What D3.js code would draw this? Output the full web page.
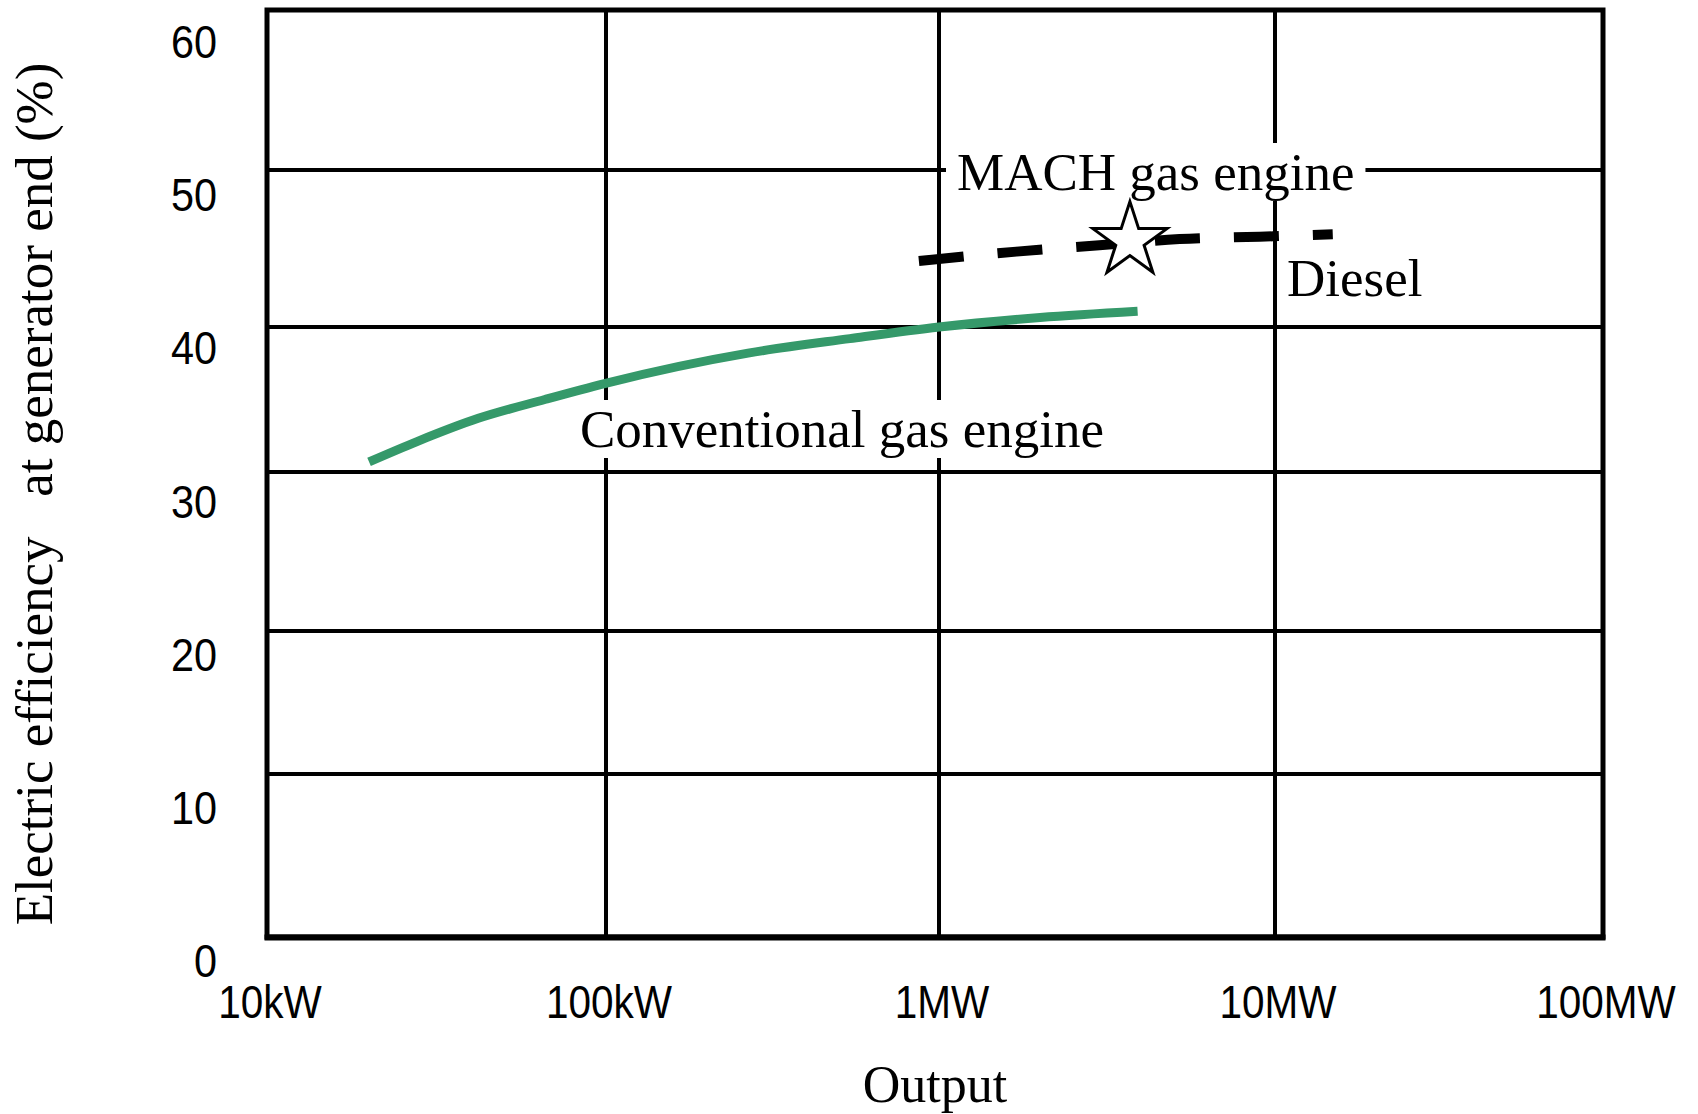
<!DOCTYPE html>
<html>
<head>
<meta charset="utf-8">
<script src="https://cdn.jsdelivr.net/npm/d3@7"></script>
<style>
  html, body { margin: 0; padding: 0; background: #fff; }
  svg { display: block; }
</style>
</head>
<body>
<svg id="chart" width="1698" height="1114"></svg>
<script>
// ---- data ----
const xTickValues = [1e4, 1e5, 1e6, 1e7, 1e8];
const xTickLabels = ["10kW", "100kW", "1MW", "10MW", "100MW"];
const yTickValues = [0, 10, 20, 30, 40, 50, 60];
const yTickLabels = ["0", "10", "20", "30", "40", "50", "60"];

// Conventional gas engine (output in W, efficiency in %)
const conventionalOutput     = [20e3, 27.7e3, 42e3, 66e3, 99e3, 267e3, 540e3, 1e6, 2e6, 3.9e6];
const conventionalEfficiency = [30.7, 32.1,   33.7, 35.0, 36.1, 38.2,  39.2,  40.0, 40.6, 41.0];

// Diesel
const dieselOutput     = [0.87e6, 1.7e6, 3e6,  5.2e6, 9e6,   15e6];
const dieselEfficiency = [44.2,   44.8,  45.2, 45.6,  45.75, 45.9];

// MACH gas engine
const machOutput     = [3.7e6];
const machEfficiency = [45.5];

const xAxisTitle = "Output";
const yAxisTitle = "Electric efficiency   at generator end (%)";

(function () {
// ---- layout ----
const svg = d3.select("#chart");
const pLeft = 267, pRight = 1603, pTop = 10, pBottom = 937;

// the original grid is slightly irregular; piecewise scales reproduce it
const x = d3.scaleLog().domain(xTickValues).range([pLeft, 606, 939, 1275, pRight]);
const y = d3.scaleLinear().domain(yTickValues).range([pBottom, 774, 631, 472, 327, 170, pTop]);
// tick labels sit on an evenly spaced ladder, offset below the grid lines
const yLabel = d3.scaleLinear().domain([0, 60]).range([977, 58]);

const serif = "'Liberation Serif', 'Times New Roman', serif";
const sans = "'Liberation Sans', Arial, sans-serif";

// plot background
svg.append("rect").attr("x", pLeft).attr("y", pTop)
  .attr("width", pRight - pLeft).attr("height", pBottom - pTop).attr("fill", "#fff");

// grid
const grid = svg.append("g").attr("stroke", "#000").attr("stroke-width", 4);
grid.selectAll("line.h").data(yTickValues.slice(1, -1)).join("line")
  .attr("class", "h")
  .attr("x1", pLeft).attr("x2", pRight)
  .attr("y1", d => y(d)).attr("y2", d => y(d));
grid.selectAll("line.v").data(xTickValues.slice(1, -1)).join("line")
  .attr("class", "v")
  .attr("y1", pTop).attr("y2", pBottom)
  .attr("x1", d => x(d)).attr("x2", d => x(d));

// frame
svg.append("rect").attr("x", pLeft).attr("y", pTop)
  .attr("width", pRight - pLeft).attr("height", pBottom - pTop)
  .attr("fill", "none").attr("stroke", "#000").attr("stroke-width", 5);
svg.append("line").attr("x1", pLeft - 2.5).attr("x2", pRight + 2.5)
  .attr("y1", pBottom + 0.5).attr("y2", pBottom + 0.5)
  .attr("stroke", "#000").attr("stroke-width", 6);

// x tick labels
svg.append("g").selectAll("text").data(xTickValues).join("text")
  .attr("transform", d => `translate(${x(d) + 3},1018) scale(0.88,1)`)
  .attr("text-anchor", "middle")
  .attr("font-family", sans).attr("font-size", 46).attr("fill", "#000")
  .text((d, i) => xTickLabels[i]);

// y tick labels
svg.append("g").selectAll("text").data(yTickValues).join("text")
  .attr("transform", d => `translate(217,${yLabel(d)}) scale(0.9,1)`)
  .attr("text-anchor", "end")
  .attr("font-family", sans).attr("font-size", 46).attr("fill", "#000")
  .text((d, i) => yTickLabels[i]);

// axis titles
svg.append("text")
  .attr("x", 935).attr("y", 1102)
  .attr("text-anchor", "middle")
  .attr("font-family", serif).attr("font-size", 52).attr("fill", "#000")
  .text(xAxisTitle);

svg.append("text")
  .attr("transform", "translate(52,494) rotate(-90)")
  .attr("text-anchor", "middle")
  .style("white-space", "pre")
  .attr("font-family", serif).attr("font-size", 53).attr("fill", "#000")
  .text(yAxisTitle);

// annotation labels (with white boxes that interrupt the grid)
function boxedLabel(txt, tx, ty, padX) {
  const g = svg.append("g");
  const r = g.append("rect").attr("fill", "#fff");
  const t = g.append("text")
    .attr("x", tx).attr("y", ty)
    .attr("font-family", serif).attr("font-size", 53).attr("fill", "#000")
    .text(txt);
  if (padX !== null) {
    const b = t.node().getBBox();
    r.attr("x", b.x - padX).attr("y", b.y).attr("width", b.width + 2 * padX).attr("height", b.height);
  }
  return g;
}
boxedLabel("Conventional gas engine", 580, 447, 7);
boxedLabel("MACH gas engine", 957, 190, 11);
boxedLabel("Diesel", 1287, 296, null);

// lines
const convData = conventionalOutput.map((o, i) => [o, conventionalEfficiency[i]]);
const dieselData = dieselOutput.map((o, i) => [o, dieselEfficiency[i]]);
const machData = machOutput.map((o, i) => [o, machEfficiency[i]]);

const line = d3.line().x(d => x(d[0])).y(d => y(d[1])).curve(d3.curveMonotoneX);

svg.append("path").datum(convData)
  .attr("d", line)
  .attr("fill", "none").attr("stroke", "#35996a").attr("stroke-width", 9);

svg.append("path").datum(dieselData)
  .attr("d", line)
  .attr("fill", "none").attr("stroke", "#000").attr("stroke-width", 10)
  .attr("stroke-dasharray", "45,34");

// MACH star
const star = d3.symbol().type(d3.symbolStar).size(39 * 39 / 0.8908130915292852);
svg.append("g").selectAll("path").data(machData).join("path")
  .attr("transform", d => `translate(${x(d[0])},${y(d[1])})`)
  .attr("d", star)
  .attr("fill", "#fff").attr("stroke", "#000").attr("stroke-width", 3);
})();
</script>
</body>
</html>
